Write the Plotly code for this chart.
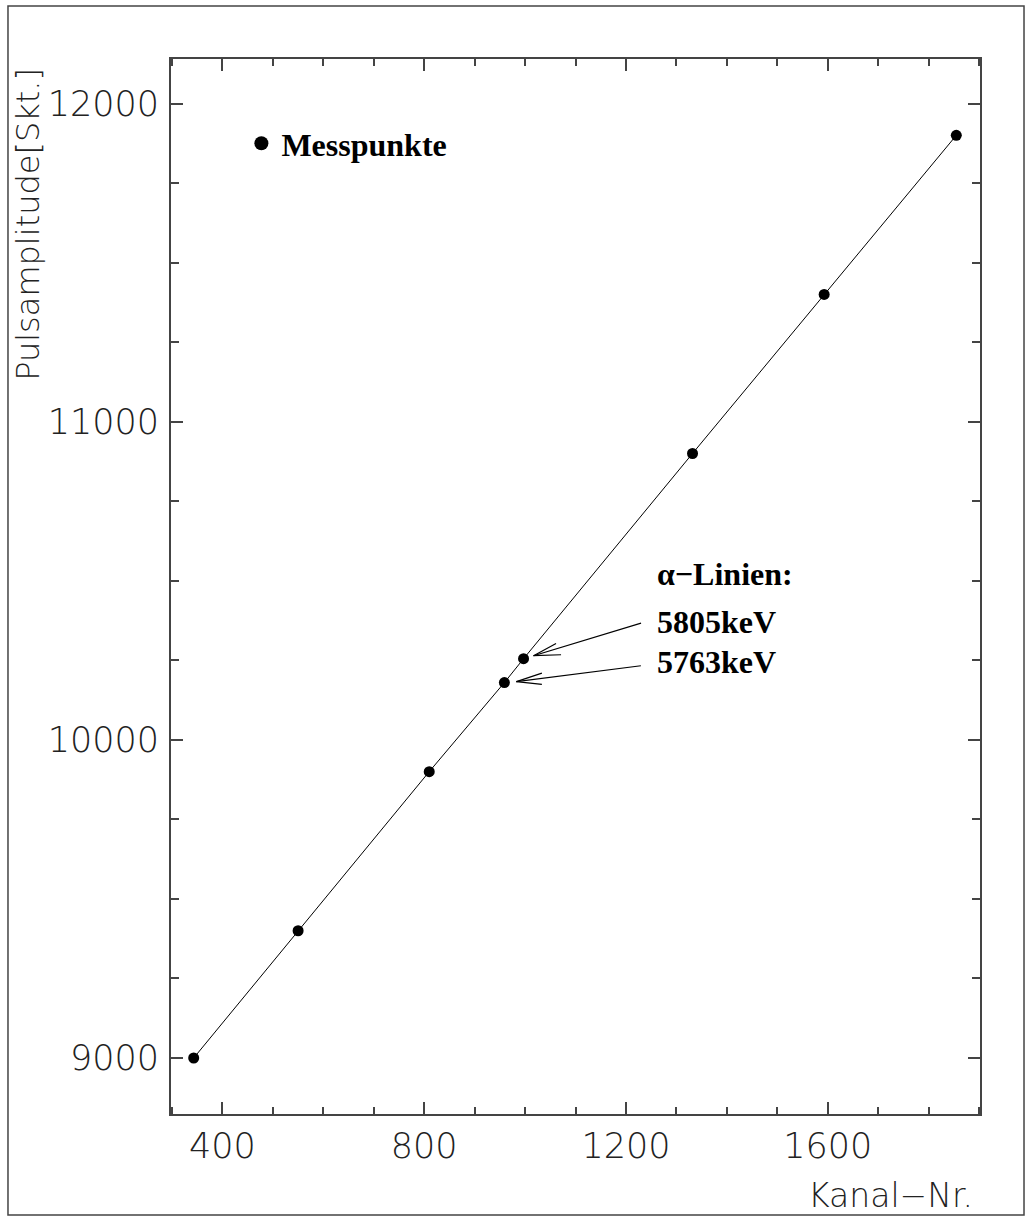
import plotly.graph_objects as go

# Data
kanal = [343, 550, 810, 959, 997, 1332, 1593, 1855]
amplitude = [9000, 9400, 9900, 10180, 10255, 10900, 11400, 11900]

x_ticks = [400, 800, 1200, 1600]
y_ticks = [9000, 10000, 11000, 12000]

x_range = [298, 1902]
y_range = [8824, 12140]

label_font = dict(family="DejaVu Sans", size=35, color="#222", weight=200)
text_font = dict(family="Liberation Serif", size=32, color="black", weight="bold")

fig = go.Figure()
fig.add_trace(go.Scatter(x=kanal, y=amplitude, mode="lines",
                         line=dict(color="black", width=1), showlegend=False))
fig.add_trace(go.Scatter(x=kanal, y=amplitude, mode="markers",
                         marker=dict(color="black", size=11), showlegend=False))
# legend entry
fig.add_trace(go.Scatter(x=[None], y=[None], mode="markers", name="Messpunkte",
                         marker=dict(color="black", size=14), showlegend=True))

axis_common = dict(showline=True, linecolor="#444", linewidth=2, mirror="ticks",
                   ticks="inside", tickcolor="#444", tickwidth=1.5, ticklen=12,
                   showgrid=False, zeroline=False, tickfont=label_font)

fig.update_xaxes(range=x_range, tickvals=x_ticks, ticktext=[str(v) for v in x_ticks],
                 minor=dict(dtick=100, tick0=0, ticks="inside", ticklen=7,
                            tickcolor="#444", tickwidth=1.5),
                 **axis_common)
fig.update_yaxes(range=y_range, tickvals=y_ticks, ticktext=[str(v) for v in y_ticks],
                 minor=dict(dtick=250, tick0=0, ticks="inside", ticklen=8,
                            tickcolor="#444", tickwidth=1.5),
                 ticklabelstandoff=3,
                 **axis_common)

# Axis titles
fig.add_annotation(text="Pulsamplitude[Skt.]", xref="paper", yref="paper",
                   x=-0.1768, y=0.994, xanchor="center", yanchor="top",
                   textangle=-90, showarrow=False, font=dict(label_font, size=32))
fig.add_annotation(text="Kanal\u2212Nr.", xref="paper", yref="paper",
                   x=0.994, y=-0.0777, xanchor="right", yanchor="middle",
                   showarrow=False, font=dict(label_font, size=33))

# Alpha line labels
fig.add_annotation(text="\u03b1\u2212Linien:", x=1258, y=10522, xanchor="left",
                   yanchor="middle", showarrow=False, font=text_font)
fig.add_annotation(text="5805keV", x=1258, y=10370, xanchor="left",
                   yanchor="middle", showarrow=False, font=text_font)
fig.add_annotation(text="5763keV", x=1258, y=10246, xanchor="left",
                   yanchor="middle", showarrow=False, font=text_font)

# Arrows (shaft + two open barbs) pointing at the two alpha line points
arrow_style = dict(text="", showarrow=True, arrowhead=0, arrowwidth=1.2,
                   arrowcolor="black", standoff=0, startstandoff=0)
for idx, shift, tail, barbs in [
    (4, (10, 3), (109, -33), [(24, -13), (29, -1)]),
    (3, (12, 1), (126, -16), [(27, -9), (27, 3)]),
]:
    for ax, ay in [tail] + barbs:
        fig.add_annotation(x=kanal[idx], y=amplitude[idx], xshift=shift[0],
                           yshift=shift[1], ax=ax, ay=ay, **arrow_style)

# Outer frame
fig.add_shape(type="rect", xref="paper", yref="paper",
              x0=-0.2015, x1=1.0544, y0=-0.0957, y1=1.0502,
              line=dict(color="#444", width=1.5), layer="below")

fig.update_layout(
    width=1026, height=1216,
    margin=dict(l=171, r=46, t=59, b=102),
    paper_bgcolor="white", plot_bgcolor="white",
    legend=dict(x=0.087, y=0.920, xanchor="left", yanchor="middle",
                bgcolor="rgba(0,0,0,0)", font=text_font, itemsizing="trace"),
)

fig.write_html("out.html")
